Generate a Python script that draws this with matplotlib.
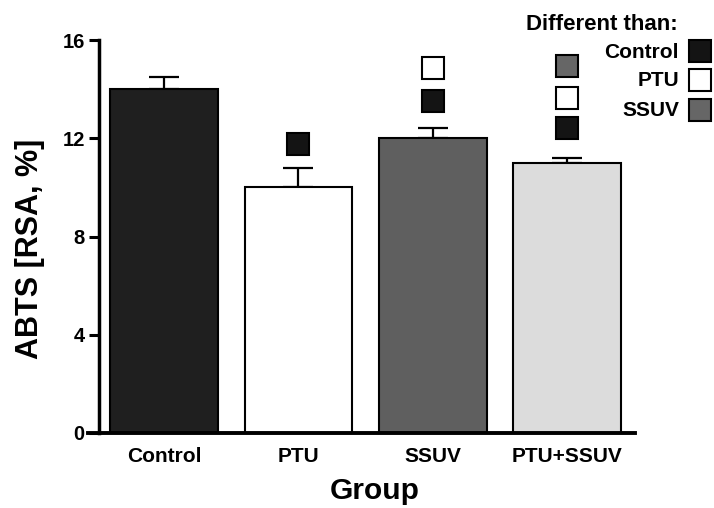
import matplotlib
matplotlib.use("Agg")
import matplotlib.pyplot as plt
import numpy as np

plt.rcParams['font.family'] = ['Liberation Sans', 'DejaVu Sans']
plt.rcParams['font.weight'] = 'bold'

groups = ['Control', 'PTU', 'SSUV', 'PTU+SSUV']
means = [14.0, 10.0, 12.0, 11.0]
sem = [0.5, 0.8, 0.42, 0.2]
bar_colors = ['#1f1f1f', '#ffffff', '#5f5f5f', '#dcdcdc']

# significance markers: (group index, y value, which group it differs from)
sig_group = [1, 2, 2, 3, 3, 3]
sig_y = [11.75, 13.5, 14.85, 12.4, 13.65, 14.95]
sig_vs = ['Control', 'Control', 'PTU', 'Control', 'PTU', 'SSUV']
marker_colors = {'Control': '#141414', 'PTU': '#ffffff', 'SSUV': '#666666'}

W, H = 714, 508
fig = plt.figure(figsize=(W / 100, H / 100), dpi=100)
# axes spans pixel x 88..635, y 40..433
ax = fig.add_axes([88 / W, 1 - 433 / H, (635 - 88) / W, (433 - 40) / H])

x = np.arange(len(groups))
ax.bar(x, means, width=0.805, color=bar_colors, edgecolor='black', linewidth=1.5, zorder=2)
ax.errorbar(x, means, yerr=[np.zeros(len(sem)), sem], fmt='none', ecolor='black',
            elinewidth=1.6, capsize=11, capthick=1.6, zorder=1)

for g, yv, vs in zip(sig_group, sig_y, sig_vs):
    ax.plot(g, yv, marker='s', markersize=15.5, markerfacecolor=marker_colors[vs],
            markeredgecolor='black', markeredgewidth=1.5, clip_on=False, zorder=3)

ax.set_xlim(-0.57, 3.51)
ax.set_ylim(0, 16)
ax.spines['left'].set_position(('data', -0.49))
ax.spines['top'].set_visible(False)
ax.spines['right'].set_visible(False)
ax.spines['left'].set_linewidth(2.5)
ax.spines['bottom'].set_linewidth(2.8)
ax.set_yticks([0, 4, 8, 12, 16])
ax.set_xticks(x)
ax.set_xticklabels(groups, fontsize=15, fontweight='bold')
ax.tick_params(axis='y', length=7, width=2.2, labelsize=14.5, pad=3)
ax.tick_params(axis='x', length=0, pad=10)
for lab in ax.get_yticklabels():
    lab.set_fontweight('bold')

fig.text(30 / W, 1 - 249 / H, 'ABTS [RSA, %]', rotation=90, ha='center', va='center',
         fontsize=22, fontweight='bold')
fig.text(375 / W, 1 - 491 / H, 'Group', ha='center', va='center', fontsize=21.5, fontweight='bold')

# legend for significance markers
fig.text(678 / W, 1 - 24 / H, 'Different than:', ha='right', va='center', fontsize=16, fontweight='bold')
leg_y = [51, 80, 110]
for name, ly in zip(['Control', 'PTU', 'SSUV'], leg_y):
    fig.text(679 / W, 1 - (ly + 1) / H, name, ha='right', va='center', fontsize=15, fontweight='bold')
    fig.lines.append(plt.Line2D([700 / W], [1 - ly / H], transform=fig.transFigure, marker='s',
                                markersize=16, markerfacecolor=marker_colors[name],
                                markeredgecolor='black', markeredgewidth=1.5))

fig.savefig('out.png', dpi=100)
